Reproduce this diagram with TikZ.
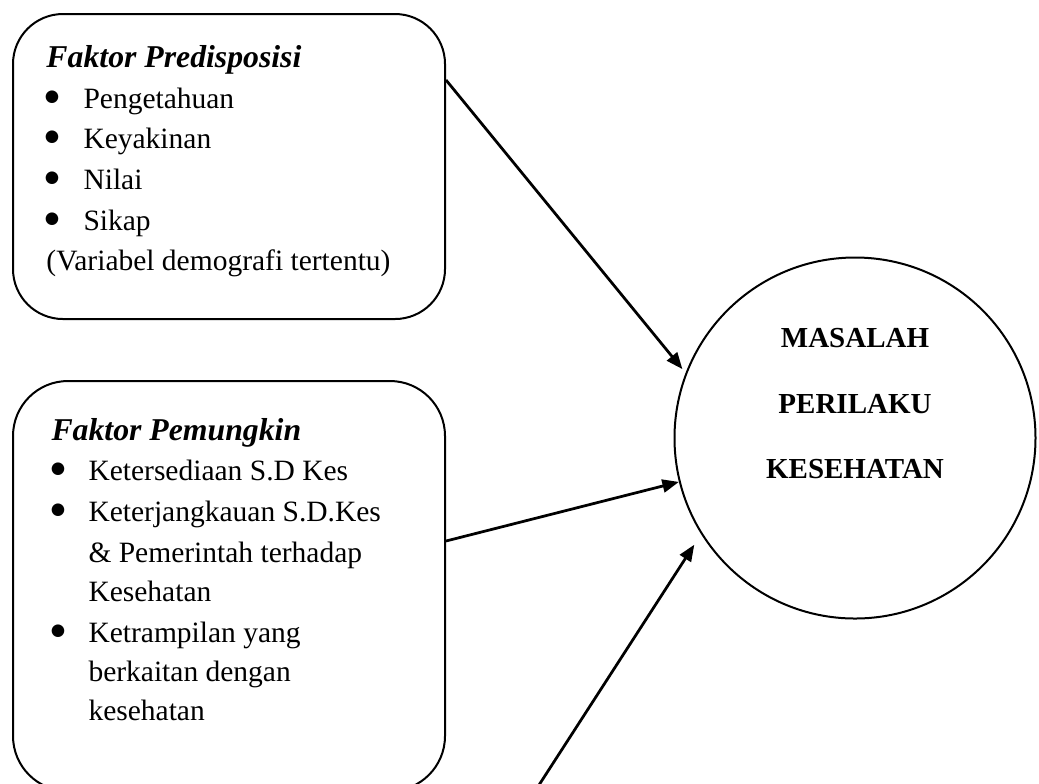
\documentclass[tikz,border=0pt]{standalone}
\usepackage{fontspec}
\setmainfont{Liberation Serif}
\newfontfamily\bulfont{DejaVu Sans}
\usetikzlibrary{arrows.meta,calc}
\begin{document}
\begin{tikzpicture}[x=0.4pt,y=-0.4pt,
  box/.style={draw, line width=0.8pt, rounded corners=#1, inner sep=0pt, anchor=north west},
  txt/.style={anchor=base west, inner sep=0pt, font=\fontsize{11.8}{14}\selectfont},
  ttl/.style={anchor=base west, inner sep=0pt, font=\fontsize{12.7}{15}\selectfont\bfseries\itshape},
  ctr/.style={anchor=base, inner sep=0pt, font=\fontsize{11.6}{14}\selectfont\bfseries},
  bul/.style={anchor=center, inner sep=0pt, font=\bulfont\fontsize{6.6}{7}\selectfont},
  arr/.style={line width=1.1pt, -{Triangle[length=6.6pt,width=5.2pt]}}]
\clip (0,0) rectangle (1039,783);
\useasboundingbox (0,0) rectangle (1039,783);

% boxes
\node[box=20pt, minimum width=172.8pt, minimum height=122pt] (pred) at (12,13) {};
\node[box=22pt, minimum width=172.8pt, minimum height=164pt] (pem) at (12,380) {};
\node[draw, circle, line width=0.8pt, minimum size=144.4pt, inner sep=0pt] (circ) at (855,438) {};

% box 1 text
\node[ttl] (t1) at (46,67) {Faktor Predisposisi};
\node[bul] (b11) at (52,97) {●};
\node[txt] (i11) at (83,108) {Pengetahuan};
\node[bul] (b12) at (52,137) {●};
\node[txt] (i12) at (83,148) {Keyakinan};
\node[bul] (b13) at (52,178) {●};
\node[txt] (i13) at (83,189) {Nilai};
\node[bul] (b14) at (52,219) {●};
\node[txt] (i14) at (83,230) {Sikap};
\node[txt] (i15) at (46,270) {(Variabel demografi tertentu)};

% box 2 text
\node[ttl] (t2) at (51,440) {Faktor Pemungkin};
\node[bul] (b21) at (58,469) {●};
\node[txt] (i21) at (88,480) {Ketersediaan S.D Kes};
\node[bul] (b22) at (58,510) {●};
\node[txt] (i22) at (88,521) {Keterjangkauan S.D.Kes};
\node[txt] (i23) at (88,562) {\& Pemerintah terhadap};
\node[txt] (i24) at (88,601) {Kesehatan};
\node[bul] (b25) at (58,631) {●};
\node[txt] (i25) at (88,642) {Ketrampilan yang};
\node[txt] (i26) at (88,681) {berkaitan dengan};
\node[txt] (i27) at (88,720) {kesehatan};

% circle text
\node[ctr] (c1) at (855,347) {MASALAH};
\node[ctr] (c2) at (855,413) {PERILAKU};
\node[ctr] (c3) at (855,478) {KESEHATAN};

% connectors
\coordinate (a3s) at (528,802);
\draw[arr, shorten >=2pt] ($(pred.north east)+(0,67)$) -- (circ.159.3);
\draw[arr] ($(pem.north east)+(0,161)$) -- (circ.194.3);
\draw[arr, shorten >=5pt] (a3s) -- (circ.212.7);
\end{tikzpicture}
\end{document}
